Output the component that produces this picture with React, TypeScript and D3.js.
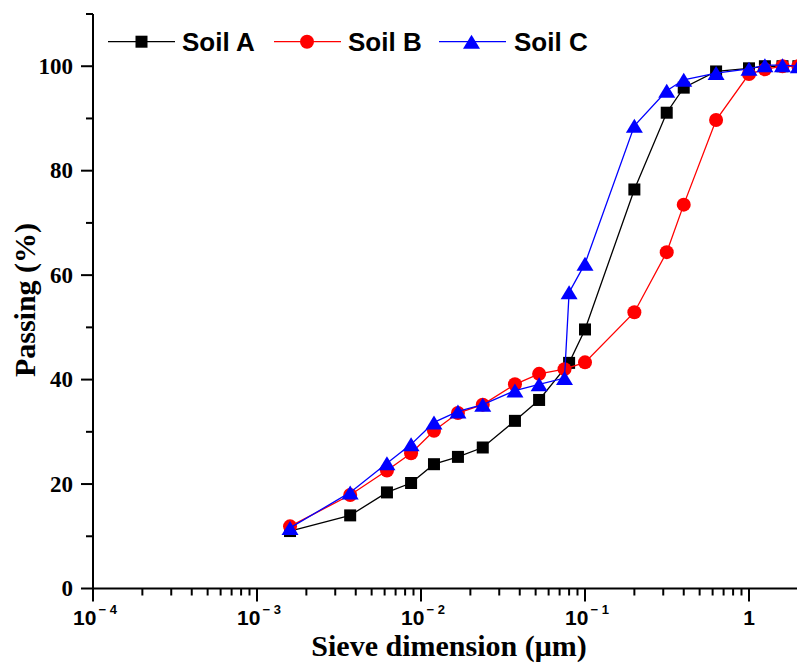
import React from "react";
import * as d3 from "d3";

// sieve sizes (µm) and passing (%)
const soilAX = [0.00159, 0.0037, 0.0062, 0.0087, 0.012, 0.0168, 0.0238, 0.0374, 0.0525, 0.08, 0.1, 0.2, 0.315, 0.4, 0.63, 1, 1.25, 1.6, 2];
const soilAY = [11.0, 14.0, 18.4, 20.2, 23.8, 25.2, 27.0, 32.1, 36.1, 43.2, 49.6, 76.4, 91.1, 95.9, 99.0, 99.6, 100, 100, 100];

const soilBX = [0.00159, 0.0037, 0.0062, 0.0087, 0.012, 0.0168, 0.0238, 0.0374, 0.0525, 0.075, 0.1, 0.2, 0.315, 0.4, 0.63, 1, 1.25, 1.6, 2];
const soilBY = [11.9, 17.9, 22.6, 25.9, 30.2, 33.6, 35.2, 39.1, 41.1, 42.0, 43.3, 52.9, 64.4, 73.5, 89.7, 98.5, 99.4, 100, 100];

const soilCX = [0.00159, 0.0037, 0.0062, 0.0087, 0.012, 0.0168, 0.0238, 0.0374, 0.0525, 0.075, 0.08, 0.1, 0.2, 0.315, 0.4, 0.63, 1, 1.25, 1.6, 2];
const soilCY = [11.6, 18.4, 24.0, 27.6, 31.8, 33.9, 35.2, 37.9, 39.1, 40.3, 56.7, 62.2, 88.6, 95.3, 97.4, 98.7, 99.5, 100.2, 100.2, 100];

const seriesNames = ["Soil A", "Soil B", "Soil C"];
const yTicks = [0, 20, 40, 60, 80, 100];
const yMinorTicks = [10, 30, 50, 70, 90, 110];
const xDecades = [-4, -3, -2, -1, 0];

const W = 797;
const H = 666;
const serif = "'Liberation Serif', 'Times New Roman', serif";
const sans = "'Liberation Sans', Arial, sans-serif";

const x = d3.scaleLog().domain([1e-4, 1]).range([93, 749]);
const y = d3.scaleLinear().domain([0, 110]).range([588.5, 14]);

const series = [
  { name: seriesNames[0], xs: soilAX, ys: soilAY, color: "#000000", shape: "square" },
  { name: seriesNames[1], xs: soilBX, ys: soilBY, color: "#ff0000", shape: "circle" },
  { name: seriesNames[2], xs: soilCX, ys: soilCY, color: "#0000ff", shape: "triangle" },
];

function Marker({ shape, cx, cy, color }: { shape: string; cx: number; cy: number; color: string }) {
  if (shape === "square") {
    return <rect x={cx - 6} y={cy - 6} width={12} height={12} fill={color} />;
  }
  if (shape === "circle") {
    return <circle cx={cx} cy={cy} r={7} fill={color} />;
  }
  const w = 17, h = 14;
  return (
    <path
      d={`M${cx},${cy - h / 2}L${cx + w / 2},${cy + h / 2}L${cx - w / 2},${cy + h / 2}Z`}
      fill={color}
    />
  );
}

export default function App() {
  const line = d3
    .line<[number, number]>()
    .x((d) => x(d[0]))
    .y((d) => y(d[1]));

  const minorX: number[] = [];
  xDecades.forEach((e) => {
    for (let k = 2; k <= 9; k++) {
      const v = k * Math.pow(10, e);
      if (x(v) <= W) minorX.push(v);
    }
  });

  const legendItems = [
    { x0: 108, x1: 175, mx: 141.5, tx: 182 },
    { x0: 274, x1: 341, mx: 307, tx: 348 },
    { x0: 439, x1: 506, mx: 471.5, tx: 514 },
  ];

  return (
    <svg width={W} height={H} style={{ position: "absolute", left: 0, top: 0, background: "#fff" }}>
      {/* data */}
      <g>
        {series.map((s) => {
          const pts = s.xs.map((v, i) => [v, s.ys[i]] as [number, number]);
          return (
            <g key={s.name}>
              <path d={line(pts) || ""} fill="none" stroke={s.color} strokeWidth={1.3} />
              {pts.map((p, i) => (
                <Marker key={i} shape={s.shape} cx={x(p[0])} cy={y(p[1])} color={s.color} />
              ))}
            </g>
          );
        })}
      </g>

      {/* y axis */}
      <g>
        <line x1={93} x2={93} y1={y(0) + 1} y2={y(110)} stroke="#000" strokeWidth={2} />
        {yTicks.map((t) => (
          <g key={t}>
            <line x1={81} x2={93} y1={y(t)} y2={y(t)} stroke="#000" strokeWidth={2} />
            <text x={73} y={y(t) + 7.5} textAnchor="end" fontFamily={serif} fontWeight="bold" fontSize={23}>
              {t}
            </text>
          </g>
        ))}
        {yMinorTicks.map((t) => (
          <line key={t} x1={86} x2={93} y1={y(t)} y2={y(t)} stroke="#000" strokeWidth={2} />
        ))}
      </g>

      {/* x axis */}
      <g>
        <line x1={92} x2={W} y1={y(0)} y2={y(0)} stroke="#000" strokeWidth={2} />
        {xDecades.map((e) => {
          const v = Math.pow(10, e);
          const px = x(v);
          return (
            <g key={e}>
              <line x1={px} x2={px} y1={y(0)} y2={y(0) + 13} stroke="#000" strokeWidth={2} />
              {e === 0 ? (
                <text x={px} y={625} textAnchor="middle" fontFamily={sans} fontWeight="bold" fontSize={21}>
                  1
                </text>
              ) : (
                <text x={px + 2} y={625} textAnchor="middle" fontFamily={sans} fontWeight="bold" fontSize={21}>
                  10
                  <tspan dx={2} dy={-11} fontSize={13}>
                    {"\u2212 " + Math.abs(e)}
                  </tspan>
                </text>
              )}
            </g>
          );
        })}
        {minorX.map((v, i) => (
          <line key={i} x1={x(v)} x2={x(v)} y1={y(0)} y2={y(0) + 7} stroke="#000" strokeWidth={2} />
        ))}
      </g>

      {/* axis titles */}
      <text x={449} y={656} textAnchor="middle" fontFamily={serif} fontWeight="bold" fontSize={30}>
        Sieve dimension (μm)
      </text>
      <text
        transform={`translate(35,300) rotate(-90)`}
        textAnchor="middle"
        fontFamily={serif}
        fontWeight="bold"
        fontSize={30}
      >
        Passing (%)
      </text>

      {/* legend */}
      <g>
        {series.map((s, i) => {
          const l = legendItems[i];
          return (
            <g key={s.name}>
              <line x1={l.x0} x2={l.x1} y1={41.7} y2={41.7} stroke={s.color} strokeWidth={1.3} />
              <Marker shape={s.shape} cx={l.mx} cy={41.7} color={s.color} />
              <text x={l.tx} y={51} fontFamily={sans} fontWeight="bold" fontSize={26}>
                {s.name}
              </text>
            </g>
          );
        })}
      </g>
    </svg>
  );
}
